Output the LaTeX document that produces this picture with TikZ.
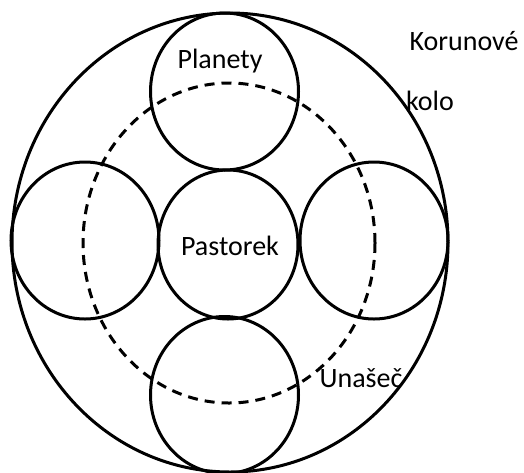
\documentclass[tikz,border=0pt]{standalone}
\usepackage{fontspec}
\setmainfont{Carlito}
\usetikzlibrary{shapes.geometric}

\begin{document}
\begin{tikzpicture}[
    x=0.5pt,y=-0.5pt,
    every node/.style={font=\fontsize{14}{16}\selectfont},
    gear/.style={draw=black,line width=1.5pt,ellipse,inner sep=0pt},
    planeta/.style={gear,minimum width=74pt,minimum height=78.5pt},
    nosic/.style={gear,dashed,dash pattern=on 5pt off 3.5pt},
    popis/.style={anchor=base,inner sep=0pt}
  ]
  \useasboundingbox (0,0) rectangle (524,472);
  % ring gear
  \node[gear,minimum width=218pt,minimum height=229.5pt] (kolo) at (230,242.5) {};
  % carrier
  \node[nosic,minimum width=146pt,minimum height=160pt] (unasec) at (229,243) {};
  % sun gear
  \node[gear,minimum width=70pt,minimum height=74.5pt] (pastorek) at (228,244.5) {};
  % planets
  \node[planeta] (p1) at (224.5,91.5) {};
  \node[planeta] (p2) at (85,240.5) {};
  \node[planeta] (p3) at (374,240.5) {};
  \node[planeta] (p4) at (224.5,395) {};
  % labels
  \node[popis] (pastorektxt) at (230,255) {Pastorek};
  \node[popis] (planety) at (220,68) {Planety};
  \node[popis] (korunove) at (464,50) {Korunové};
  \node[popis] (kolotxt) at (430,110) {kolo};
  \node[popis] (unasectxt) at (361,387) {Unašeč};
\end{tikzpicture}
\end{document}
